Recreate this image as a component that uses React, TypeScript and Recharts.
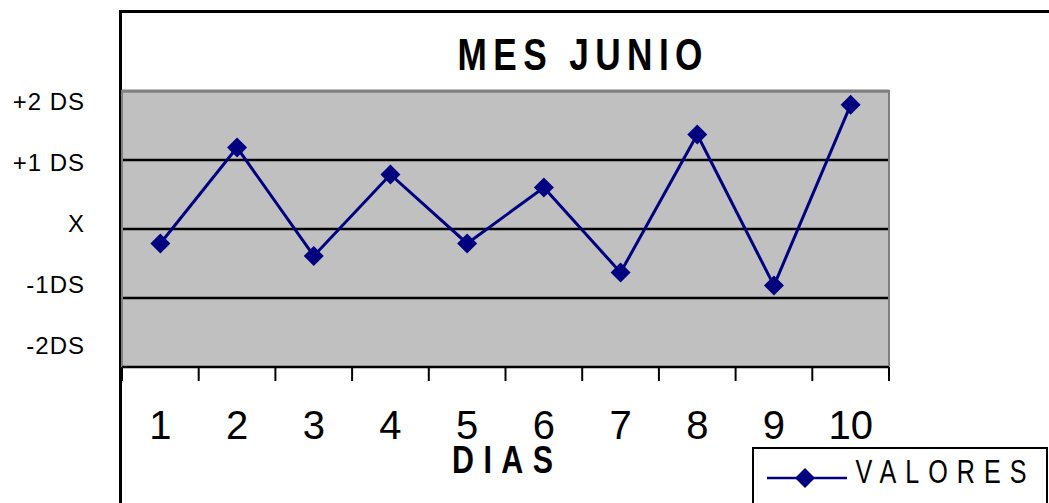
import { LineChart, Line, XAxis, YAxis, CartesianGrid, ReferenceArea, ReferenceLine, Legend } from 'recharts'

const dias = [1, 2, 3, 4, 5, 6, 7, 8, 9, 10]
const valores = [-0.21, 1.18, -0.39, 0.79, -0.21, 0.6, -0.63, 1.37, -0.82, 1.8]
const nivelesY = [-2, -1, 0, 1, 2]
const etiquetasY = ['-2DS', '-1DS', 'X', '+1 DS', '+2 DS']
const lineasGuia = [-1, 0, 1]

const FONT = 'Liberation Sans, Arial, sans-serif'
const AZUL = '#000080'

const datos = dias.map((d, i) => ({ dia: d, valor: valores[i] }))
const ticksX = [...dias.flatMap((d) => [d - 0.5, d]), dias[dias.length - 1] + 0.5]

function diamante(cx: number, cy: number, r: number) {
  return `M${cx},${cy - r}L${cx + r},${cy}L${cx},${cy + r}L${cx - r},${cy}Z`
}

// texto estrecho y espaciado, como en la hoja original
function TextoAncho({ x, y, ancho, size, bold, k = 0.8, children }: any) {
  return (
    <text
      transform={`translate(${x},${y}) scale(${k},1)`}
      x={0}
      y={0}
      textAnchor="middle"
      fontSize={size}
      fontWeight={bold ? 'bold' : 'normal'}
      fontFamily={FONT}
      textLength={ancho / k}
      lengthAdjust="spacing"
      fill="#000"
    >
      {children}
    </text>
  )
}

function DiaTick(props: any) {
  const { x, y, payload } = props
  const v = payload.value
  if (!Number.isInteger(v)) {
    return <line x1={x} x2={x} y1={y} y2={y + 14} stroke="#000" strokeWidth={2} />
  }
  return (
    <text x={x} y={y + 72} textAnchor="middle" fontSize={40} fontFamily={FONT} fill="#000">
      {v}
    </text>
  )
}

function Punto(props: any) {
  const { cx, cy, index } = props
  return <path key={index} d={diamante(cx, cy, 10)} fill={AZUL} />
}

function Leyenda(props: any) {
  const item = props.payload?.[0]
  return (
    <svg width={297} height={56} style={{ display: 'block' }}>
      <rect x={1} y={1} width={294} height={70} fill="#fff" stroke="#000" strokeWidth={2} />
      <line x1={15} x2={95} y1={31} y2={31} stroke={AZUL} strokeWidth={2.5} />
      <path d={diamante(53, 31, 10)} fill={AZUL} />
      <TextoAncho x={189} y={36} ancho={171} size={34} k={0.74}>
        {item ? item.value : 'VALORES'}
      </TextoAncho>
    </svg>
  )
}

export default function App() {
  return (
    <div style={{ position: 'absolute', left: 0, top: 0, width: 1049, height: 503, background: '#fff' }}>
      <div
        style={{
          position: 'absolute',
          left: 119,
          top: 10,
          width: 1049 - 119,
          height: 503 - 10,
          borderLeft: '3px solid #000',
          borderTop: '3px solid #000',
          boxSizing: 'border-box',
        }}
      />
      <div style={{ position: 'absolute', left: 0, top: 0 }}>
        <LineChart width={1049} height={503} data={datos} margin={{ top: 91, right: 160, bottom: 0, left: 0 }}>
          <TextoAncho x={580} y={70} ancho={245} size={44} bold>
            MES JUNIO
          </TextoAncho>
          <XAxis
            xAxisId="dias"
            dataKey="dia"
            type="number"
            domain={[0.5, 10.5]}
            ticks={ticksX}
            interval={0}
            allowDataOverflow
            height={136}
            tickSize={0}
            tickMargin={0}
            tickLine={false}
            axisLine={{ stroke: '#000', strokeWidth: 2 }}
            tick={<DiaTick />}
            label={{
              value: 'DIAS',
              content: (p: any) => (
                <TextoAncho x={p.viewBox.x + p.viewBox.width / 2 - 3} y={p.viewBox.y + 106} ancho={101} size={38} bold>
                  DIAS
                </TextoAncho>
              ),
            }}
          />
          <YAxis yAxisId="main" hide type="number" domain={[-2, 2]} ticks={lineasGuia} allowDataOverflow />
          <YAxis
            yAxisId="etiquetas"
            type="number"
            width={122}
            domain={[-2.35, 2.17]}
            ticks={nivelesY}
            interval={0}
            allowDataOverflow
            axisLine={false}
            tickLine={false}
            tickSize={0}
            tickMargin={37}
            tickFormatter={(v: number) => etiquetasY[nivelesY.indexOf(v)] ?? ''}
            tick={{ fill: '#000', fontSize: 24, fontFamily: FONT, letterSpacing: 1 }}
          />
          <CartesianGrid
            xAxisId="dias"
            yAxisId="main"
            vertical={false}
            stroke="#000"
            strokeWidth={2.5}
            fill="#C0C0C0"
            fillOpacity={1}
          />
          <ReferenceArea
            xAxisId="dias"
            yAxisId="main"
            x1={0.5}
            x2={10.5}
            y1={-2}
            y2={2}
            fill="none"
            fillOpacity={0}
            stroke="#808080"
            strokeWidth={2}
            ifOverflow="visible"
          />
          <ReferenceLine xAxisId="dias" yAxisId="main" y={-2} stroke="#000" strokeWidth={2} ifOverflow="visible" />
          <Legend
            layout="horizontal"
            verticalAlign="middle"
            align="center"
            content={<Leyenda />}
            wrapperStyle={{ position: 'absolute', left: 752, top: 447, width: 297, height: 56 }}
          />
          <Line
            xAxisId="dias"
            yAxisId="main"
            type="linear"
            dataKey="valor"
            name="VALORES"
            stroke={AZUL}
            strokeWidth={3}
            dot={Punto}
            activeDot={false}
            isAnimationActive={false}
          />
        </LineChart>
      </div>
    </div>
  )
}
